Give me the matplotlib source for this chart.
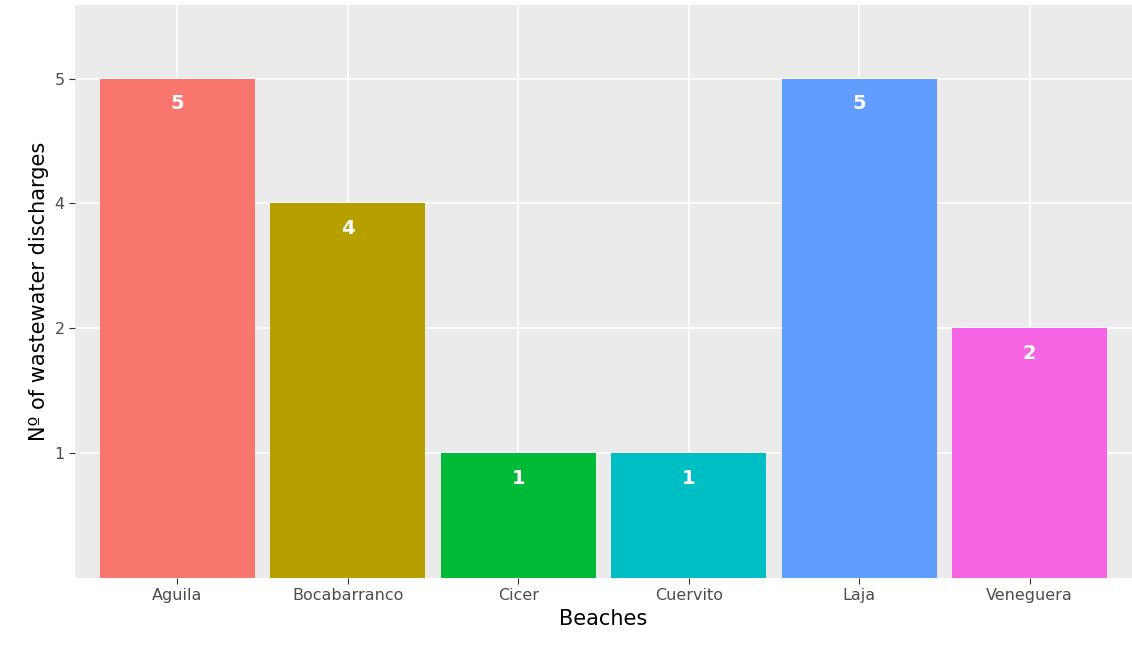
import matplotlib
matplotlib.use("Agg")
import matplotlib.pyplot as plt

beaches = ["Aguila", "Bocabarranco", "Cicer", "Cuervito", "Laja", "Veneguera"]
values = [5, 4, 1, 1, 5, 2]
colors = ["#F8766D", "#B79F00", "#00BA38", "#00BFC4", "#619CFF", "#F564E3"]
levels = [1, 2, 4, 5]  # discrete y levels

fig = plt.figure(figsize=(11.32, 6.52), dpi=100)
ax = fig.add_axes([75/1132, 74/652, 1057/1132, 573/652])
ax.set_facecolor("#EBEBEB")
pos = {v: i + 1 for i, v in enumerate(levels)}
xs = list(range(1, len(beaches) + 1))
hs = [pos[v] for v in values]
ax.bar(xs, hs, width=0.91, color=colors, zorder=3)
for x, h, v in zip(xs, hs, values):
    ax.text(x, h - 0.2, str(v), color="white", fontweight="bold", fontsize=14,
            ha="center", va="center", zorder=4)
ax.set_xlim(0.4, 6.6)
ax.set_ylim(0, 4.59)
ax.set_xticks(xs)
ax.set_xticklabels(beaches)
ax.set_yticks(range(1, len(levels) + 1))
ax.set_yticklabels([str(l) for l in levels])
ax.grid(True, which="major", color="white", linewidth=1.2, zorder=0)
ax.set_axisbelow(True)
for s in ax.spines.values():
    s.set_visible(False)
ax.tick_params(colors="#333333", labelsize=11.5, length=4)
ax.tick_params(axis="both", labelcolor="#4D4D4D")
ax.set_xlabel("Beaches", fontsize=15)
ax.set_ylabel("Nº of wastewater discharges", fontsize=15)
fig.savefig("out.png", dpi=100)
